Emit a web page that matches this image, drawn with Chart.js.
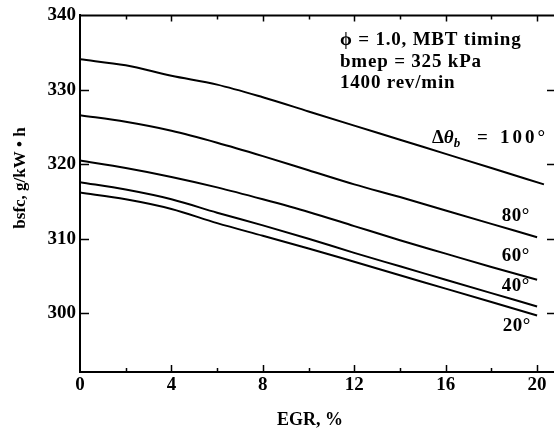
<!DOCTYPE html>
<html>
<head>
<meta charset="utf-8">
<script src="https://cdn.jsdelivr.net/npm/chart.js@4/dist/chart.umd.min.js"></script>
<style>
  html, body { margin: 0; padding: 0; background: #fff; }
  #wrap { width: 554px; height: 433px; }
</style>
</head>
<body>
<div id="wrap"><canvas id="bsfcChart"></canvas></div>
<script>
// EGR, % (x) and bsfc, g/kW.h (y), one curve per burn angle
var egr = [0, 2, 4, 6, 8, 10, 12, 14, 16, 18, 20];
var egr100 = [0, 2, 4, 6, 8, 10, 12, 14, 16, 18, 20.3];
var bsfc100 = [334.1, 333.3, 331.9, 330.7, 329.0, 327.1, 325.2, 323.3, 321.4, 319.5, 317.3];
var bsfc80 = [326.6, 325.7, 324.5, 322.9, 321.1, 319.2, 317.3, 315.6, 313.8, 312.0, 310.2];
var bsfc60 = [320.5, 319.5, 318.3, 316.9, 315.3, 313.6, 311.7, 309.8, 308.0, 306.2, 304.5];
var bsfc40 = [317.6, 316.6, 315.3, 313.5, 311.8, 310.0, 308.1, 306.3, 304.5, 302.7, 300.9];
var bsfc20 = [316.2, 315.3, 314.0, 312.1, 310.4, 308.7, 306.9, 305.1, 303.3, 301.5, 299.7];
var yTicks = [300, 310, 320, 330, 340];

var SERIF = '"Liberation Serif", "DejaVu Serif", serif';

function pts(xs, ys) {
    var out = [];
    for (var i = 0; i < xs.length; i++) {
        out.push({x: xs[i], y: ys[i]});
    }
    return out;
}

function curve(label, xs, ys) {
    return {
        label: label,
        data: pts(xs, ys),
        borderColor: "#000",
        borderWidth: 2,
        pointRadius: 0,
        fill: false,
        tension: 0.4,
        cubicInterpolationMode: "monotone"
    };
}

// frame extras: top border, inward ticks, titles and curve labels
var framePlugin = {
    id: "frame",
    afterDraw: function (chart) {
        var ctx = chart.ctx;
        var xs = chart.scales.x, ys = chart.scales.y;
        var a = chart.chartArea;
        ctx.save();
        ctx.strokeStyle = "#000";
        ctx.fillStyle = "#000";

        // top border
        ctx.lineWidth = 2;
        ctx.beginPath();
        ctx.moveTo(a.left, a.top);
        ctx.lineTo(a.right, a.top);
        ctx.stroke();

        // x ticks (bottom and top), major every 4, minor every 2
        ctx.lineWidth = 1.5;
        for (var v = 2; v <= 20; v += 2) {
            var px = Math.round(xs.getPixelForValue(v)) + 0.5;
            var major = v % 4 === 0;
            ctx.beginPath();
            ctx.moveTo(px, a.bottom);
            ctx.lineTo(px, a.bottom - (major ? 7 : 4));
            ctx.moveTo(px, a.top);
            ctx.lineTo(px, a.top + (major ? 6 : 4));
            ctx.stroke();
        }
        // y ticks (left and right)
        yTicks.forEach(function (t) {
            if (t >= 340) return;
            var py = Math.round(ys.getPixelForValue(t)) + 0.5;
            ctx.beginPath();
            ctx.moveTo(a.left, py);
            ctx.lineTo(a.left + 9, py);
            ctx.moveTo(a.right, py);
            ctx.lineTo(a.right - 7, py);
            ctx.stroke();
        });

        // axis titles
        ctx.save();
        ctx.translate(21, 178);
        ctx.rotate(-Math.PI / 2);
        ctx.font = "bold 17px " + SERIF;
        ctx.textAlign = "center";
        ctx.textBaseline = "middle";
        ctx.fillText("bsfc, g/kW \u2022 h", 0, 0);
        ctx.restore();

        ctx.font = "bold 18px " + SERIF;
        ctx.textAlign = "center";
        ctx.textBaseline = "middle";
        ctx.fillText("EGR, %", 310, 420);

        // operating condition note
        ctx.textAlign = "left";
        ctx.font = "bold 19px " + SERIF;
        ctx.letterSpacing = "0.8px";
        ctx.fillText("\u03D5 = 1.0, MBT timing", 340, 40);
        ctx.fillText("bmep = 325 kPa", 340, 62);
        ctx.fillText("1400 rev/min", 340, 83);

        // curve labels
        ctx.letterSpacing = "0.5px";
        var lx = xs.getPixelForValue(18.45);
        ctx.fillText("80\u00B0", lx, ys.getPixelForValue(313.1));
        ctx.fillText("60\u00B0", lx, ys.getPixelForValue(307.7));
        ctx.fillText("40\u00B0", lx, ys.getPixelForValue(303.6));
        ctx.fillText("20\u00B0", lx + 1, ys.getPixelForValue(298.3));

        var x0 = xs.getPixelForValue(15.4), y0 = ys.getPixelForValue(323.5);
        ctx.letterSpacing = "0px";
        ctx.font = "bold 19px " + SERIF;
        ctx.fillText("\u0394", x0, y0);
        var w = ctx.measureText("\u0394").width;
        ctx.font = "italic bold 19px " + SERIF;
        ctx.fillText("\u03B8", x0 + w, y0);
        w += ctx.measureText("\u03B8").width;
        ctx.font = "italic bold 13px " + SERIF;
        ctx.fillText("b", x0 + w, y0 + 5);
        ctx.font = "bold 19px " + SERIF;
        ctx.fillText("=", x0 + 45, y0);
        ctx.letterSpacing = "3px";
        ctx.fillText("100\u00B0", x0 + 68, y0);

        ctx.restore();
    }
};

var chart = new Chart(document.getElementById("bsfcChart"), {
    type: "line",
    data: {
        datasets: [
            curve("100", egr100, bsfc100),
            curve("80", egr, bsfc80),
            curve("60", egr, bsfc60),
            curve("40", egr, bsfc40),
            curve("20", egr, bsfc20)
        ]
    },
    options: {
        responsive: true,
        maintainAspectRatio: false,
        animation: false,
        layout: {padding: {top: 14, right: 0, bottom: 0, left: 0}},
        plugins: {legend: {display: false}, tooltip: {enabled: false}},
        scales: {
            x: {
                type: "linear",
                min: 0,
                max: 20.74,
                afterFit: function (s) { s.height = 61; },
                grid: {display: false, drawTicks: false},
                border: {display: true, color: "#000", width: 2},
                ticks: {
                    stepSize: 4,
                    includeBounds: false,
                    color: "#000",
                    padding: 2,
                    maxRotation: 0,
                    font: {family: SERIF, size: 19, weight: "bold"}
                }
            },
            y: {
                type: "linear",
                min: 292.1,
                max: 340,
                afterFit: function (s) { s.width = 80; },
                grid: {display: false, drawTicks: false},
                border: {display: true, color: "#000", width: 2},
                ticks: {
                    stepSize: 10,
                    includeBounds: false,
                    color: "#000",
                    padding: 4,
                    font: {family: SERIF, size: 19, weight: "bold"}
                }
            }
        }
    },
    plugins: [framePlugin]
});
</script>
</body>
</html>
